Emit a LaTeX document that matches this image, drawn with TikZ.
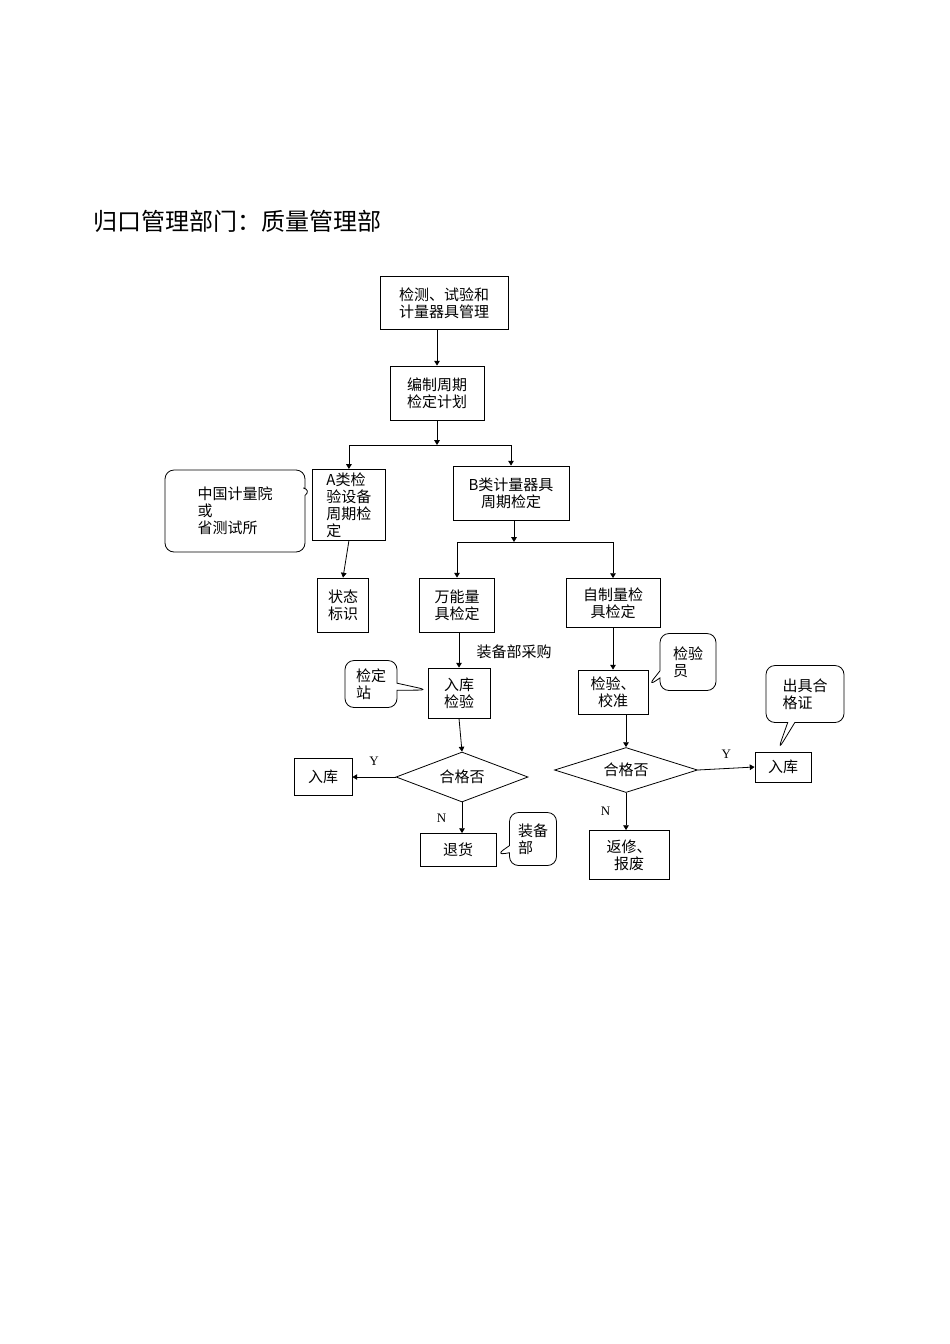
\documentclass[tikz,border=0pt]{standalone}
\usepackage{fontspec}
\setmainfont{Noto Sans CJK SC}
\newfontfamily\latinfont{Liberation Serif}
\usetikzlibrary{arrows.meta,positioning,shapes.geometric,shapes.callouts}
\tikzset{
  >=Triangle,
  every picture/.append style={line width=0.8pt},
  every node/.append style={font=\fontsize{15}{17}\selectfont},
}
\tikzset{
  box/.style={draw, align=center, inner sep=1pt},
  decision/.style={draw, diamond, aspect=2.6, inner sep=0pt},
  note/.style={draw, rectangle callout, rounded corners=9pt, align=left, inner sep=3pt},
  arrow/.style={->},
  yn/.style={font=\latinfont\fontsize{13}{15}\selectfont}
}

\begin{document}
\begin{tikzpicture}[x=1pt,y=-1pt]
\useasboundingbox (0,0) rectangle (950,1344);

% Title
\node[anchor=west, font=\fontsize{24}{28}\selectfont] (title) at (90,221) {归口管理部门：质量管理部};

% Main chain
\node[box, minimum width=128pt, minimum height=53pt] (manage) at (444,303) {检测、试验和\\计量器具管理};
\node[box, minimum width=94pt, minimum height=54pt] (plan) at (437,393) {编制周期\\检定计划};
\node[box, minimum width=73pt, minimum height=71pt, anchor=north west, align=left] (classA) at (312,469) {A类检\\验设备\\周期检\\定};
\node[box, minimum width=116pt, minimum height=54pt] (classB) at (511,493) {B类计量器具\\周期检定};
\node[box, minimum width=51pt, minimum height=54pt] (status) at (343,605) {状态\\标识};
\node[box, minimum width=75pt, minimum height=54pt] (general) at (457,605) {万能量\\具检定};
\node[box, minimum width=94pt, minimum height=49pt] (selfmade) at (613,603) {自制量检\\具检定};
\node[box, minimum width=62pt, minimum height=50pt] (incoming) at (459,693) {入库\\检验};
\node[box, minimum width=70pt, minimum height=44pt] (calib) at (613,692) {检验、\\校准};

% Decisions
\node[decision, minimum width=132pt, minimum height=50pt] (checkL) at (462,777) {合格否};
\node[decision, minimum width=143pt, minimum height=45pt] (checkR) at (626,770) {合格否};
\node[box, minimum width=58pt, minimum height=37pt] (storeL) at (323,777) {入库};
\node[box, minimum width=76pt, minimum height=33pt] (reject) at (458,850) {退货};
\node[box, minimum width=56pt, minimum height=30pt] (storeR) at (783,767) {入库};
\node[box, minimum width=80pt, minimum height=49pt] (repair) at (629,855) {返修、\\报废};

% Callouts
\node[note, minimum width=140pt, minimum height=82pt, callout absolute pointer={(312,490)}] (metro) at (235,511) {中国计量院\\或\\省测试所};
\node[note, minimum width=52pt, minimum height=47pt, callout absolute pointer={(428,690)}] (station) at (371,684) {检定\\站};
\node[note, minimum width=56pt, minimum height=57pt, callout absolute pointer={(648,686)}] (inspector) at (688,662) {检验\\员};
\node[note, minimum width=78pt, minimum height=57pt, callout absolute pointer={(778,750)}] (cert) at (805,694) {出具合\\格证};
\node[note, minimum width=47pt, minimum height=53pt, callout absolute pointer={(496,855)}] (equip) at (533,839) {装备\\部};

% Connectors
\coordinate (splitA) at (437,445);
\coordinate (splitB) at (514,542);
\draw[arrow] (manage.south -| plan) -- (plan.north);
\draw[arrow] (plan.south) -- (splitA);
\draw[arrow] (splitA) -| (classA.north);
\draw[arrow] (splitA) -| (classB.north);
\draw[arrow] (classA.south) -- (status.north);
\draw[arrow] (classB.south -| splitB) -- (splitB);
\draw[arrow] (splitB) -| (general.north);
\draw[arrow] (splitB) -| (selfmade.north);
\draw[arrow] (general.south -| incoming) -- node[right, pos=0.55, xshift=14pt] (buy) {装备部采购} (incoming.north);
\draw[arrow] (selfmade.south) -- (calib.north);
\draw[arrow] (incoming.south) -- (checkL.north);
\draw[arrow] (calib.south -| checkR) -- (checkR.north);
\draw[arrow] (checkL.west) -- node[above, yshift=8pt, yn] (yesL) {Y} (storeL.east);
\draw[arrow] (checkL.south) -- node[left, xshift=-12pt, yn] (noL) {N} (reject.north -| checkL);
\draw[arrow] (checkR.east) -- node[above, yshift=6pt, yn] (yesR) {Y} (storeR.west);
\draw[arrow] (checkR.south) -- node[left, xshift=-12pt, yn] (noR) {N} (repair.north -| checkR);
\end{tikzpicture}
\end{document}
